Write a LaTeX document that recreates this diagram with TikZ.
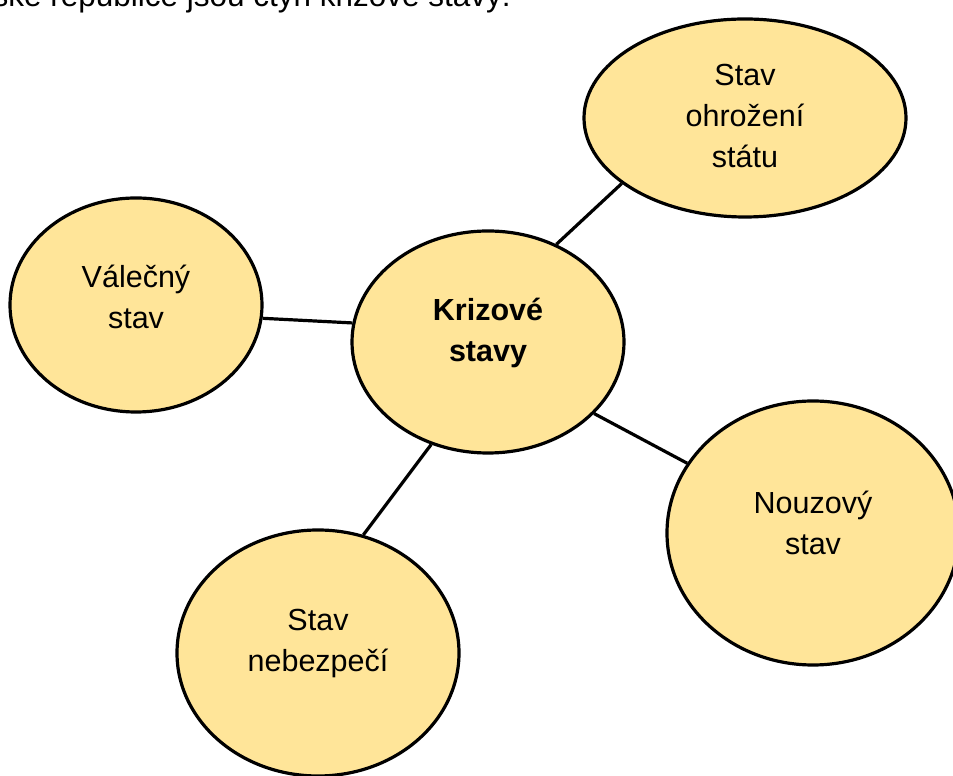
\documentclass[tikz,border=0pt]{standalone}
\usepackage{fontspec}
\setmainfont{Liberation Sans}
\usetikzlibrary{shapes.geometric}
\definecolor{fillyellow}{HTML}{FFE599}
\tikzset{
  bubble/.style={ellipse, draw=black, line width=3.2pt, fill=fillyellow, inner sep=0pt},
  lbl/.style={align=center, font=\fontsize{30.5}{41}\selectfont, inner sep=0pt},
  conn/.style={draw=black, line width=3.2pt}
}
\begin{document}
\begin{tikzpicture}[x=1pt,y=1pt]
\useasboundingbox (0,0) rectangle (953,776);
\clip (0,0) rectangle (953,776);
\node[lbl, anchor=base east, font=\fontsize{31.5}{41}\selectfont] (title) at (511,769) {V České republice jsou čtyři krizové stavy:};
\node[bubble, minimum width=322pt, minimum height=198pt] (tr) at (745,658) {};
\node[bubble, minimum width=252pt, minimum height=214pt] (l) at (136,471) {};
\node[bubble, minimum width=272pt, minimum height=222pt] (c) at (488,434) {};
\node[bubble, minimum width=292pt, minimum height=264pt] (r) at (813,243) {};
\node[bubble, minimum width=282pt, minimum height=246pt] (b) at (318,123) {};
\node[lbl] (tr-t) at ([yshift=2pt]tr.center) {Stav\\ohrožení\\státu};
\node[lbl] (l-t) at ([yshift=8pt]l.center) {Válečný\\stav};
\node[lbl, font=\fontsize{30.5}{41}\selectfont\bfseries] (c-t) at ([yshift=9pt]c.center) {Krizové\\stavy};
\node[lbl] (r-t) at ([yshift=10pt]r.center) {Nouzový\\stav};
\node[lbl] (b-t) at ([yshift=9pt]b.center) {Stav\\nebezpečí};
\draw[conn] (c.55) -- (tr.208);
\draw[conn] (c.172) -- (l.354);
\draw[conn] (c.241) -- (b.69);
\draw[conn] (c.326) -- (r.151);
\end{tikzpicture}
\end{document}
